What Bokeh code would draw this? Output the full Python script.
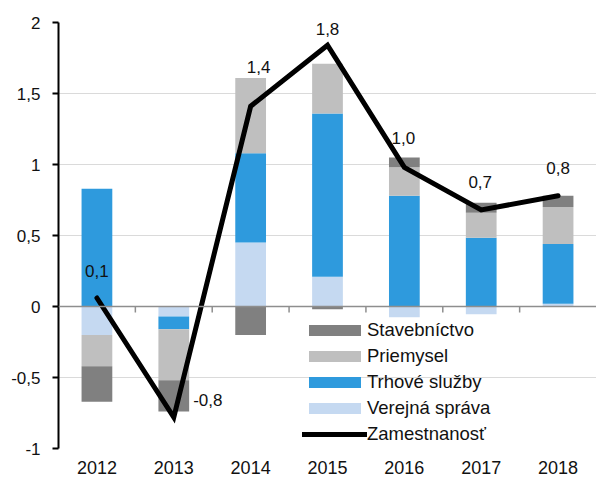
from bokeh.plotting import figure
from bokeh.models import (ColumnDataSource, FixedTicker, CustomJSTickFormatter, Span,
                          Legend, LegendItem, Range1d, FactorRange)
from bokeh.transform import dodge
from bokeh.embed import file_html
from bokeh.resources import INLINE
from bokeh.core.properties import value

# ---- data ----
years = ["2012", "2013", "2014", "2015", "2016", "2017", "2018"]
stavebnictvo = [-0.25, -0.22, -0.20, -0.02, 0.07, 0.07, 0.08]
priemysel = [-0.22, -0.36, 0.53, 0.35, 0.20, 0.175, 0.26]
trhove_sluzby = [0.83, -0.09, 0.63, 1.15, 0.78, 0.485, 0.42]
verejna_sprava = [-0.20, -0.07, 0.45, 0.21, -0.075, -0.055, 0.02]
zamestnanost = [0.06, -0.78, 1.41, 1.84, 0.98, 0.68, 0.78]
y_ticks = [-1, -0.5, 0, 0.5, 1, 1.5, 2]

series_names = ["Verejná správa", "Trhové služby", "Priemysel", "Stavebníctvo"]
series_vals = [verejna_sprava, trhove_sluzby, priemysel, stavebnictvo]
series_colors = ["#c5d9f1", "#2e9add", "#bfbfbf", "#808080"]

# label offsets (screen px) — styling
label_dx = [0, 34, 8, 0, -1, -1, 0]
label_dy = [-27, -17, -39, -16, -29, -28, -28]

FONT = "Liberation Sans"
W, H = 596, 481
BL, BR, BT, BB = 58, 0, 22, 33

p = figure(x_range=FactorRange(*years), y_range=Range1d(-1, 2), width=W, height=H,
           output_backend="svg", toolbar_location=None,
           min_border_left=BL, min_border_right=BR, min_border_top=BT, min_border_bottom=BB)
p.outline_line_color = None
p.background_fill_color = "white"

# ---- stacked bars, positive and negative parts ----
data = {"yr": years}
pos_keys, neg_keys = [], []
for i, vals in enumerate(series_vals):
    data[f"p{i}"] = [max(v, 0) for v in vals]
    data[f"n{i}"] = [min(v, 0) for v in vals]
    pos_keys.append(f"p{i}")
    neg_keys.append(f"n{i}")
src = ColumnDataSource(data)

pos_r = p.vbar_stack(pos_keys, x="yr", width=0.4, fill_color=series_colors,
                     line_color=None, source=src)
neg_r = p.vbar_stack(neg_keys, x="yr", width=0.4, fill_color=series_colors,
                     line_color=None, source=src)

# grid
p.xgrid.grid_line_color = None
p.ygrid.ticker = FixedTicker(ticks=[t for t in y_ticks if t != 0])
p.ygrid.grid_line_color = "#b4b4b4"
p.ygrid.grid_line_dash = "1 1"
p.ygrid.grid_line_width = 1

# zero line
p.add_layout(Span(location=0, dimension="width", line_color="#8e8e8e", line_width=1.5))

# small category separator ticks below zero line
frame_h = H - BT - BB
tick_len = 6 * 3.0 / frame_h
tsrc = ColumnDataSource({"yr": years[1:]})
p.segment(x0=dodge("yr", -0.5, range=p.x_range), x1=dodge("yr", -0.5, range=p.x_range),
          y0=0, y1=-tick_len, line_color="#8e8e8e", line_width=1.5, source=tsrc)

# line
lsrc = ColumnDataSource({"yr": years, "z": zamestnanost,
                         "lbl": [f"{v:.1f}".replace(".", ",") for v in zamestnanost],
                         "dx": label_dx, "dy": label_dy})
line_r = p.line(x="yr", y="z", source=lsrc, line_color="black", line_width=5,
                line_join="miter", line_cap="round")
p.text(x="yr", y="z", text="lbl", x_offset="dx", y_offset="dy", source=lsrc,
       text_align="center", text_baseline="middle", text_font=value(FONT),
       text_font_size="17px", text_color="#111111")

# axes
yax = p.yaxis[0]
yax.ticker = FixedTicker(ticks=y_ticks)
yax.formatter = CustomJSTickFormatter(code="return tick.toString().replace('.', ',');")
yax.axis_line_color = "black"
yax.axis_line_width = 2
yax.major_tick_line_color = "black"
yax.major_tick_line_width = 2
yax.major_tick_out = 6
yax.major_tick_in = 0
yax.minor_tick_line_color = None
yax.major_label_standoff = 12
yax.major_label_text_font = FONT
yax.major_label_text_font_size = "17px"
yax.major_label_text_color = "#111111"

xax = p.xaxis[0]
xax.axis_line_color = None
xax.major_tick_line_color = None
xax.major_tick_out = 0
xax.major_tick_in = 0
xax.major_label_standoff = 12
xax.major_label_text_font = FONT
xax.major_label_text_font_size = "18px"
xax.major_label_text_color = "#111111"

# legend
items = [
    LegendItem(label="Stavebníctvo", renderers=[pos_r[3]]),
    LegendItem(label="Priemysel", renderers=[pos_r[2]]),
    LegendItem(label="Trhové služby", renderers=[pos_r[1]]),
    LegendItem(label="Verejná správa", renderers=[pos_r[0]]),
    LegendItem(label="Zamestnanosť", renderers=[line_r]),
]
legend = Legend(items=items, location=(244, 3), padding=0, margin=0,
                glyph_width=65, glyph_height=14, label_height=20, spacing=4,
                label_standoff=0,
                label_text_font=FONT, label_text_font_size="18.5px",
                label_text_color="#111111",
                background_fill_alpha=0, border_line_alpha=0)
p.add_layout(legend)

open("out.html", "w").write(file_html(p, INLINE))
